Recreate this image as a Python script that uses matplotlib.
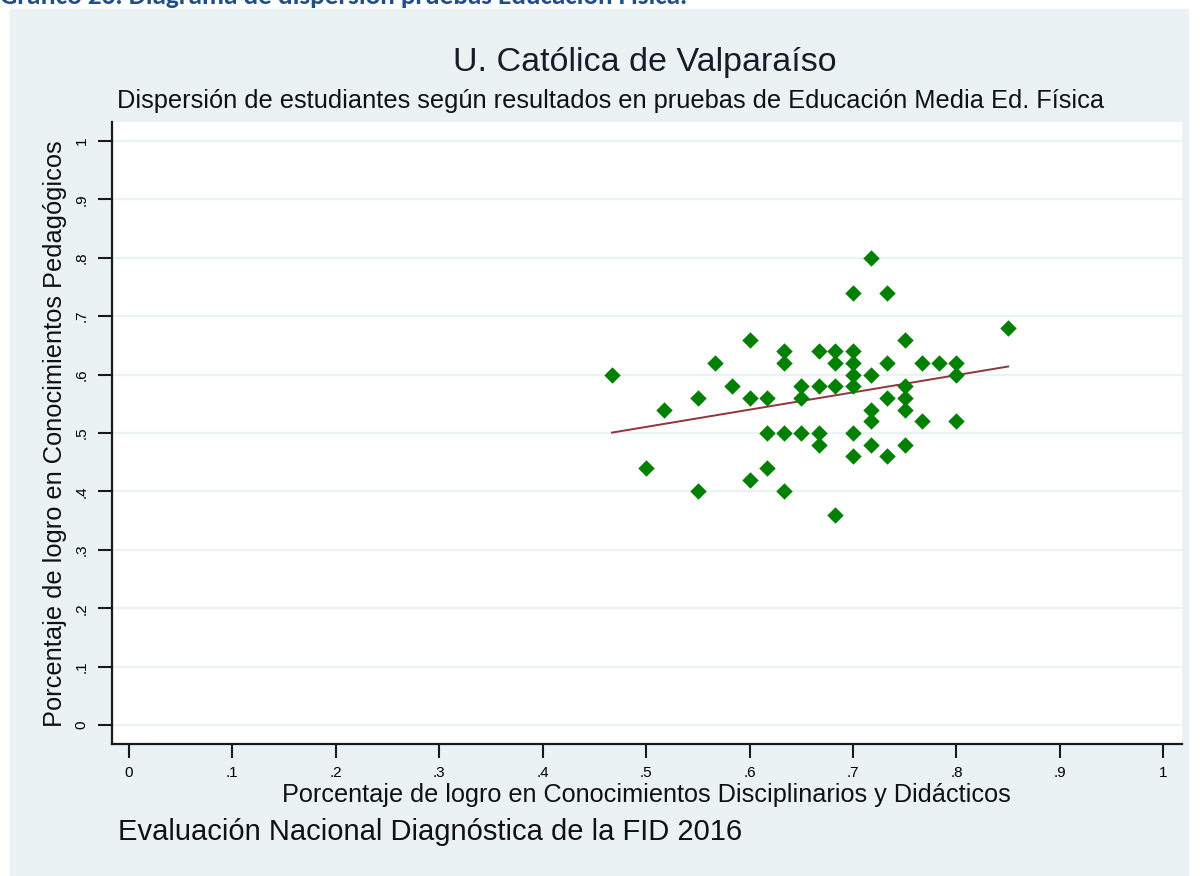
import numpy as np
import matplotlib
matplotlib.use("Agg")
import matplotlib.pyplot as plt
from matplotlib.patches import Rectangle

plt.rcParams['font.family'] = ['Liberation Sans', 'DejaVu Sans']

# puntajes (fraccion de logro)
disciplinar = [0.467, 0.517, 0.500, 0.550, 0.550, 0.567, 0.583,
               0.600, 0.600, 0.600, 0.617, 0.617, 0.617,
               0.633, 0.633, 0.633, 0.633, 0.650, 0.650, 0.650,
               0.667, 0.667, 0.667, 0.667, 0.683, 0.683, 0.683, 0.683,
               0.700, 0.700, 0.700, 0.700, 0.700, 0.700, 0.700,
               0.717, 0.717, 0.717, 0.717, 0.717,
               0.733, 0.733, 0.733, 0.733,
               0.750, 0.750, 0.750, 0.750, 0.750,
               0.767, 0.767, 0.783, 0.800, 0.800, 0.800, 0.850]
pedagogico = [0.60, 0.54, 0.44, 0.56, 0.40, 0.62, 0.58,
              0.66, 0.56, 0.42, 0.56, 0.50, 0.44,
              0.64, 0.62, 0.50, 0.40, 0.58, 0.56, 0.50,
              0.64, 0.58, 0.50, 0.48, 0.64, 0.62, 0.58, 0.36,
              0.74, 0.64, 0.62, 0.60, 0.58, 0.50, 0.46,
              0.80, 0.60, 0.54, 0.52, 0.48,
              0.74, 0.62, 0.56, 0.46,
              0.66, 0.58, 0.56, 0.54, 0.48,
              0.62, 0.52, 0.62, 0.62, 0.60, 0.52, 0.68]

ticks = [0, .1, .2, .3, .4, .5, .6, .7, .8, .9, 1]
tick_labels = ["0", ".1", ".2", ".3", ".4", ".5", ".6", ".7", ".8", ".9", "1"]

bg = "#eaf2f3"

fig = plt.figure(figsize=(12, 8.76), dpi=100)
fig.patch.set_facecolor("white")
# panel de fondo tipo Stata
fig.patches.append(Rectangle((10 / 1200, 0), 1178 / 1200, 867 / 876,
                             transform=fig.transFigure, color=bg, zorder=0))

# encabezado del documento (cortado arriba)
fig.text(0.0, 1 - 3.5 / 876, "Gráfico 26. Diagrama de dispersión pruebas Educación Física.",
         fontsize=19.5, fontweight="bold", color="#1f4e8c", ha="left", va="baseline",
         family=["Carlito", "Liberation Sans", "DejaVu Sans"], zorder=1)

ax = fig.add_axes([112 / 1200, 132 / 876, 1070 / 1200, 622 / 876])
ax.set_zorder(2)
ax.set_facecolor("white")

x = np.array(disciplinar)
y = np.array(pedagogico)
ax.scatter(x, y, marker="D", s=70, color="#008000", linewidths=0, zorder=3)

# recta de ajuste lineal
b, a = np.polyfit(x, y, 1)
xs = np.array([x.min(), x.max()])
ax.plot(xs, a + b * xs, color="#90353b", lw=1.4, zorder=2)

ax.set_xlim(-0.0164, 1.018)
ax.set_ylim(-0.0325, 1.0325)
ax.set_xticks(ticks)
ax.set_xticklabels(tick_labels, fontsize=11)
ax.set_yticks(ticks)
ax.set_yticklabels(tick_labels, fontsize=11, rotation=90, va="center")
for v in ticks:
    ax.axhline(v, color=bg, lw=1.6, zorder=1)

for s in ["top", "right"]:
    ax.spines[s].set_visible(False)
for s in ["left", "bottom"]:
    ax.spines[s].set_linewidth(1.6)
    ax.spines[s].set_color("#1a1a1a")
ax.tick_params(axis="both", length=10, width=1.5, color="#1a1a1a")
ax.tick_params(axis="x", pad=6)
ax.tick_params(axis="y", pad=7)

fig.text(645 / 1200, 1 - 62 / 876, "U. Católica de Valparaíso",
         fontsize=24.5, ha="center", va="center", color="#1a1a2a")
fig.text(611 / 1200, 1 - 101 / 876,
         "Dispersión de estudiantes según resultados en pruebas de Educación Media Ed. Física",
         fontsize=18.3, ha="center", va="center", color="#111111")
fig.text(646 / 1200, 1 - 795 / 876,
         "Porcentaje de logro en Conocimientos Disciplinarios y Didácticos",
         fontsize=18.2, ha="center", va="center", color="#111111")
fig.text(55 / 1200, 1 - 434 / 876,
         "Porcentaje de logro en Conocimientos Pedagógicos",
         fontsize=18.3, ha="center", va="center", rotation=90, color="#111111")
fig.text(118 / 1200, 1 - 832 / 876, "Evaluación Nacional Diagnóstica de la FID 2016",
         fontsize=21, ha="left", va="center", color="#111111")

fig.savefig("out.png", dpi=100, facecolor=fig.get_facecolor())
